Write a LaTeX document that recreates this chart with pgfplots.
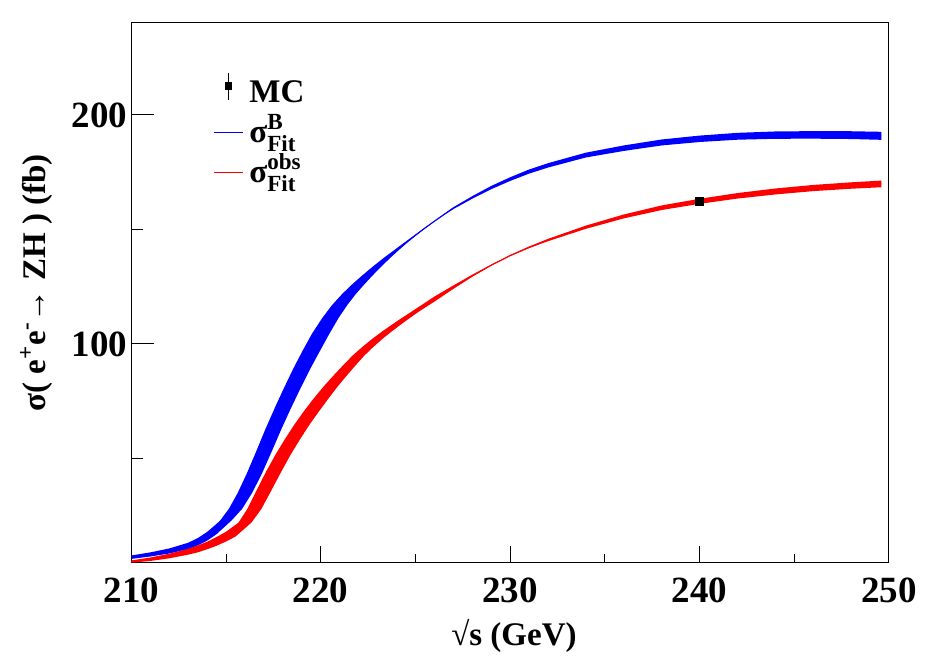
\documentclass[border=0pt]{standalone}
\usepackage{amsmath}
\usepackage{fontspec}
\setmainfont{Liberation Serif}
\usepackage{pgfplots}
\pgfplotsset{compat=1.18}
\usepackage{pgfplotstable}
\usepgfplotslibrary{fillbetween}

% blue band (sigma_B fit): upper edge, lower edge, centre
\pgfplotstableread{
x y
210 7.65
211 9.0
212 10.7
213 13.2
213.5 15.2
214 17.9
214.5 21.45
214.7 23.0
215.15 28.0
215.62 35.0
216.1 43.5
216.59 53.0
217.08 62.8
217.57 72.0
218.06 80.8
218.55 89.2
219.04 97.0
219.54 104.5
220.07 111.2
220.6 117.0
221.14 121.9
221.68 126.2
222.23 130.2
222.78 134.0
223.33 137.6
223.88 141.0
224.42 144.3
224.95 147.5
225.5 150.85
226 153.8
226.5 156.75
227 159.7
228 164.55
229 169.0
230 172.8
231 176.2
232 178.95
234 183.55
236 186.7
238 189.3
240 191.0
242 192.2
244 192.8
246 192.95
248 192.9
249.6 192.65
}\blueup
\pgfplotstableread{
x y
210 6.15
211 7.2
212 8.5
213 10.4
213.5 12.0
214 14.1
214.5 16.95
215.3 23.0
215.85 28.0
216.38 35.0
216.9 43.5
217.41 53.0
217.92 62.8
218.43 72.0
218.94 80.8
219.45 89.2
219.96 97.0
220.46 104.5
220.93 111.2
221.4 117.0
221.86 121.9
222.32 126.2
222.77 130.2
223.22 134.0
223.67 137.6
224.12 141.0
224.58 144.3
225.05 147.5
225.5 150.35
226 153.4
226.5 156.25
227 158.9
228 163.45
229 167.6
230 171.2
231 174.4
232 177.05
234 181.45
236 184.3
238 186.7
240 188.2
242 189.2
244 189.6
246 189.65
248 189.5
249.6 189.15
}\bluelo
\pgfplotstableread{
x y
210 6.9
211 8.1
212 9.6
213 11.8
213.5 13.6
214 16.0
214.5 19.2
215 23.0
215.5 28.0
216 35.0
216.5 43.5
217 53.0
217.5 62.8
218 72.0
218.5 80.8
219 89.2
219.5 97.0
220 104.5
220.5 111.2
221 117.0
221.5 121.9
222 126.2
222.5 130.2
223 134.0
223.5 137.6
224 141.0
224.5 144.3
225 147.5
225.5 150.6
226 153.6
226.5 156.5
227 159.3
228 164.0
229 168.3
230 172.0
231 175.3
232 178.0
234 182.5
236 185.5
238 188.0
240 189.6
242 190.7
244 191.2
246 191.3
248 191.2
249.6 190.9
}\bluec

% red band (sigma_obs fit): upper edge, lower edge, centre
\pgfplotstableread{
x y
210 5.5
211 6.75
212 8.4
213 10.6
213.5 12.0
214 13.65
214.5 15.7
215 18.0
215.66 22.0
216.13 28.0
216.61 36.0
217.1 44.0
217.6 51.5
218.1 58.3
218.6 64.7
219.1 70.5
219.61 76.0
220.13 81.2
220.65 86.0
221.17 90.6
221.69 95.0
222.21 98.8
222.73 102.3
223.25 105.5
223.77 108.5
224.29 111.4
224.81 114.2
226 120.7
227 125.55
228 130.25
229 134.65
230 138.85
231 142.55
232 145.9
234 151.7
236 156.55
238 160.5
240 163.4
242 165.9
244 167.9
246 169.45
248 170.6
249.6 171.35
}\redup
\pgfplotstableread{
x y
210 4.5
211 5.25
212 6.4
213 8.0
213.5 9.0
214 10.35
214.5 11.9
215 13.75
215.5 15.9
216.34 22.0
216.87 28.0
217.39 36.0
217.9 44.0
218.4 51.5
218.9 58.3
219.4 64.7
219.9 70.5
220.39 76.0
220.87 81.2
221.35 86.0
221.83 90.6
222.31 95.0
222.79 98.8
223.27 102.3
223.75 105.5
224.23 108.5
224.71 111.4
225.19 114.2
226 118.5
227 124.05
228 129.35
229 134.15
230 138.35
231 141.85
232 144.9
234 150.3
236 154.85
238 158.5
240 161.2
242 163.5
244 165.3
246 166.75
248 167.8
249.6 168.45
}\redlo
\pgfplotstableread{
x y
210 5.0
211 6.0
212 7.4
213 9.3
213.5 10.5
214 12.0
214.5 13.8
215 15.9
215.5 18.4
216 22.0
216.5 28.0
217 36.0
217.5 44.0
218 51.5
218.5 58.3
219 64.7
219.5 70.5
220 76.0
220.5 81.2
221 86.0
221.5 90.6
222 95.0
222.5 98.8
223 102.3
223.5 105.5
224 108.5
224.5 111.4
225 114.2
226 119.6
227 124.8
228 129.8
229 134.4
230 138.6
231 142.2
232 145.4
234 151.0
236 155.7
238 159.5
240 162.3
242 164.7
244 166.6
246 168.1
248 169.2
249.6 169.9
}\redc

\begin{document}
\begin{tikzpicture}
\begin{axis}[
  at={(0,0)}, anchor=south west,
  scale only axis, width=378.85pt, height=270pt,
  xmin=210, xmax=250, ymin=4.8, ymax=240.6,
  xtick={210,220,230,240,250}, minor xtick={215,225,235,245},
  ytick={100,200}, minor ytick={50,150},
  xtick pos=left, ytick pos=left,
  tick align=inside,
  axis line style={line width=0.5pt},
  tick style={black, line width=0.5pt},
  xtick style={/pgfplots/major tick length=8pt,/pgfplots/minor tick length=4pt},
  ytick style={/pgfplots/major tick length=11.5pt,/pgfplots/minor tick length=6pt},
  tick label style={font=\fontsize{18.5}{20}\selectfont\bfseries},
  /pgf/number format/assume math mode=true,
  xticklabel style={anchor=base, yshift=-20pt},
  yticklabel style={xshift=1.5pt},
  every axis x label/.style={at={(axis description cs:0.505,-0.154)}, anchor=base,
    font=\fontsize{16.5}{18}\selectfont\bfseries},
  every axis y label/.style={at={(axis description cs:-0.1254,0.517)}, rotate=90, anchor=center,
    font=\fontsize{16.5}{18}\selectfont\bfseries},
  xlabel={√s (GeV)},
  ylabel={σ( e\textsuperscript{+}e\textsuperscript{-}→ ZH ) (fb)},
  legend style={at={(axis description cs:0.1078,0.9074)}, anchor=north west,
    draw=none, fill=none, inner sep=0pt, row sep=0pt,
    font=\fontsize{16.5}{19}\selectfont\bfseries,
    nodes={inner sep=0pt, text height=11.5pt, text depth=8.5pt}},
  legend cell align=left,
]
\addplot[name path=bhi, draw=none, forget plot] table[x=x,y=y]{\blueup};
\addplot[name path=blo, draw=none, forget plot] table[x=x,y=y]{\bluelo};
\addplot[blue, forget plot] fill between[of=bhi and blo];
\addplot[blue, line width=0.5pt, forget plot] table[x=x,y=y]{\bluec};

\addplot[name path=rhi, draw=none, forget plot] table[x=x,y=y]{\redup};
\addplot[name path=rlo, draw=none, forget plot] table[x=x,y=y]{\redlo};
\addplot[red, forget plot] fill between[of=rhi and rlo];
\addplot[red, line width=0.5pt, forget plot] table[x=x,y=y]{\redc};

\addplot[only marks, mark=square*, mark size=1.9pt, black, forget plot] coordinates {(240,162.2)};

\addlegendimage{legend image code/.code={\draw[black,line width=0.5pt] (7.2pt,0pt) -- (7.2pt,13.3pt); \fill[black] (5.5pt,5pt) rectangle (8.9pt,8.4pt); \path (17.5pt,0pt);}}
\addlegendentry{MC}
\addlegendimage{legend image code/.code={\draw[blue,line width=0.6pt] (0pt,3.5pt) -- (14.5pt,3.5pt); \path (17.5pt,0pt);}}
\addlegendentry{σ$^{\textbf{B}}_{\textbf{Fit}}$}
\addlegendimage{legend image code/.code={\draw[red,line width=0.6pt] (0pt,3.5pt) -- (14.5pt,3.5pt); \path (17.5pt,0pt);}}
\addlegendentry{σ$^{\textbf{obs}}_{\textbf{Fit}}$}
\end{axis}
\pgfresetboundingbox
\useasboundingbox (-65.65pt,-46.5pt) rectangle (398.35pt,281pt);
\end{tikzpicture}
\end{document}
